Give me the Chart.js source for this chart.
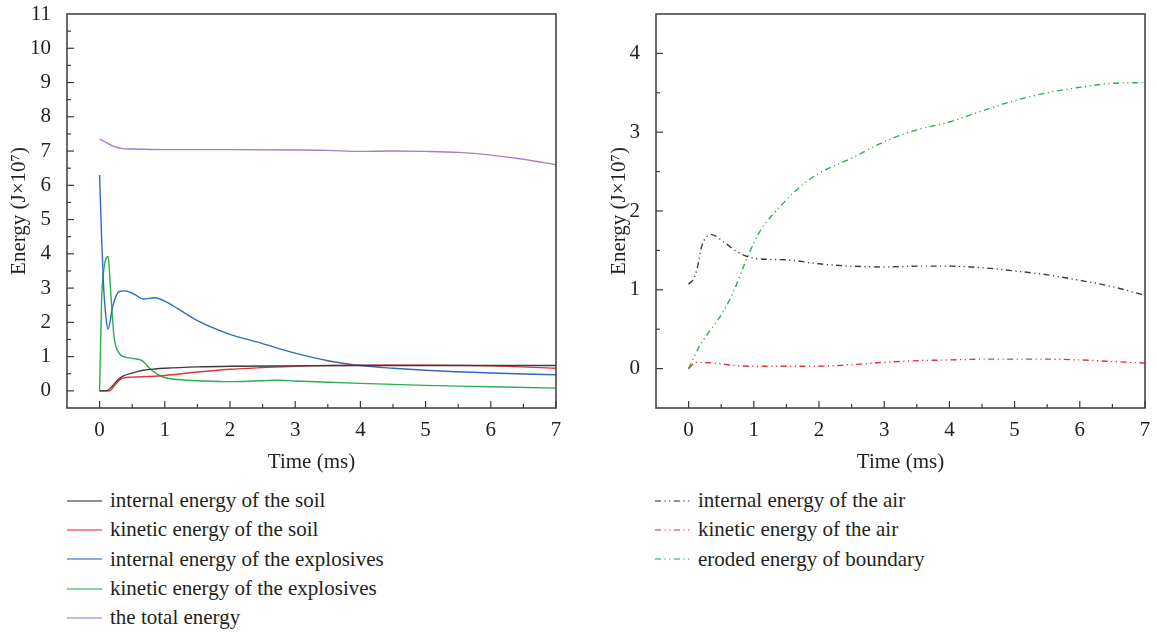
<!DOCTYPE html>
<html lang="en">
<head>
<meta charset="UTF-8">
<title>Energy curves</title>
<script src="https://cdn.jsdelivr.net/npm/chart.js"></script>
<style>
    body { margin: 0; background: #fff; font-family: "Liberation Serif", "DejaVu Serif", serif; color: #231f20; }
    .panel { position: absolute; top: 0; }
    .legend { position: absolute; font-size: 21px; }
    .legend div { display: flex; align-items: center; height: 29.3px; }
    .legend svg { margin-right: 8px; }
</style>
</head>
<body>
<div class="panel" style="left:0"><canvas id="leftChart" width="578" height="475"></canvas></div>
<div class="panel" style="left:578px"><canvas id="rightChart" width="579" height="475"></canvas></div>
<div class="legend" id="leftLegend" style="left:67px; top:486px"></div>
<div class="legend" id="rightLegend" style="left:655px; top:486px"></div>
<script>
// left panel (ms, J x 10^7)
const tSoilInt = [0, 0.1, 0.2, 0.27, 0.35, 0.5, 0.67, 0.85, 1, 1.5, 2, 3, 4, 5, 6, 7];
const soilInternal = [0, 0, 0.15, 0.3, 0.42, 0.52, 0.6, 0.64, 0.66, 0.7, 0.72, 0.73, 0.74, 0.74, 0.74, 0.74];
const tSoilKin = [0, 0.15, 0.25, 0.35, 0.5, 1, 1.5, 2, 2.5, 3, 4, 5, 6, 7];
const soilKinetic = [0, 0, 0.2, 0.37, 0.4, 0.45, 0.55, 0.63, 0.68, 0.72, 0.75, 0.75, 0.73, 0.66];
const tExpInt = [0, 0.03, 0.06, 0.1, 0.13, 0.2, 0.3, 0.4, 0.55, 0.67, 0.85, 1, 1.2, 1.5, 2, 2.5, 3, 3.5, 4, 4.5, 5, 6, 7];
const explosivesInternal = [6.3, 4.5, 3.1, 2.1, 1.8, 2.46, 2.9, 2.92, 2.8, 2.68, 2.72, 2.62, 2.4, 2.05, 1.65, 1.38, 1.1, 0.88, 0.74, 0.66, 0.6, 0.52, 0.47];
const tExpKin = [0, 0.03, 0.07, 0.13, 0.17, 0.22, 0.3, 0.37, 0.5, 0.65, 0.8, 0.95, 1.2, 1.6, 2, 2.3, 2.7, 3, 4, 5, 6, 7];
const explosivesKinetic = [0, 2.6, 3.6, 3.92, 2.9, 1.6, 1.1, 1.0, 0.95, 0.88, 0.6, 0.42, 0.33, 0.29, 0.27, 0.28, 0.31, 0.29, 0.22, 0.16, 0.12, 0.08];
const tTotal = [0, 0.1, 0.2, 0.35, 0.5, 1, 2, 3, 3.5, 4, 4.5, 5, 5.5, 6, 6.5, 7];
const totalEnergy = [7.35, 7.25, 7.15, 7.07, 7.06, 7.04, 7.04, 7.03, 7.02, 6.99, 7.0, 6.99, 6.96, 6.88, 6.76, 6.6];

// right panel
const tAirInt = [0, 0.09, 0.14, 0.2, 0.35, 0.55, 0.75, 1, 1.5, 2, 2.5, 3, 3.5, 4, 4.5, 5, 5.5, 6, 6.5, 7];
const airInternal = [1.07, 1.16, 1.3, 1.55, 1.7, 1.6, 1.48, 1.4, 1.38, 1.33, 1.3, 1.29, 1.3, 1.3, 1.28, 1.24, 1.19, 1.12, 1.04, 0.93];
const tAirKin = [0, 0.12, 0.4, 0.7, 1, 1.5, 2, 2.5, 3, 3.5, 4, 4.5, 5, 5.5, 6, 6.5, 7];
const airKinetic = [0, 0.08, 0.07, 0.04, 0.03, 0.03, 0.03, 0.05, 0.08, 0.1, 0.11, 0.12, 0.12, 0.12, 0.11, 0.09, 0.07];
const tEroded = [0, 0.17, 0.3, 0.53, 0.7, 0.91, 1.1, 1.42, 1.7, 2, 2.5, 3, 3.5, 4, 4.5, 5, 5.5, 6, 6.5, 7];
const erodedBoundary = [0, 0.29, 0.45, 0.72, 1.0, 1.43, 1.75, 2.07, 2.3, 2.48, 2.67, 2.88, 3.03, 3.13, 3.27, 3.4, 3.5, 3.57, 3.62, 3.63];

const leftLabels = ['internal energy of the soil', 'kinetic energy of the soil', 'internal energy of the explosives', 'kinetic energy of the explosives', 'the total energy'];
const rightLabels = ['internal energy of the air', 'kinetic energy of the air', 'eroded energy of boundary'];

const FONT = '"Liberation Serif", "DejaVu Serif", serif';
const INK = '#231f20';
const DASH = [6, 3.5, 1.2, 3.5, 1.2, 3.5];

function pts(t, v) { return t.map((x, i) => ({ x: x, y: v[i] })); }

function line(label, t, v, color, dash) {
    return {
        label: label, data: pts(t, v), borderColor: color, borderWidth: 1.4,
        borderDash: dash || [], pointRadius: 0, fill: false, cubicInterpolationMode: 'monotone'
    };
}

// draws the box and inward tick marks
const framePlugin = {
    id: 'frame',
    afterDraw(chart) {
        const ctx = chart.ctx, a = chart.chartArea;
        ctx.save();
        ctx.strokeStyle = '#3a3a3a';
        ctx.lineWidth = 1.5;
        ctx.strokeRect(a.left, a.top, a.right - a.left, a.bottom - a.top);
        ctx.lineWidth = 1.2;
        const xs = chart.scales.x, ys = chart.scales.y;
        xs.ticks.forEach(tk => {
            if (tk.value <= xs.min) return;
            const p = xs.getPixelForValue(tk.value);
            const len = Number.isInteger(tk.value) ? 7 : 4;
            ctx.beginPath(); ctx.moveTo(p, a.bottom); ctx.lineTo(p, a.bottom - len); ctx.stroke();
        });
        ys.ticks.forEach(tk => {
            if (tk.value <= ys.min || tk.value >= ys.max) return;
            const p = ys.getPixelForValue(tk.value);
            const len = Number.isInteger(tk.value) ? 7 : 4;
            ctx.beginPath(); ctx.moveTo(a.left, p); ctx.lineTo(a.left + len, p); ctx.stroke();
        });
        ctx.restore();
    }
};

function makeChart(id, datasets, yMax, padLeft, yWidth, padRight) {
    const tickCb = v => Number.isInteger(v) ? v : '';
    return new Chart(document.getElementById(id), {
        type: 'line',
        data: { datasets: datasets },
        options: {
            responsive: false, animation: false, devicePixelRatio: 1,
            layout: { padding: { left: padLeft, right: padRight, top: 14, bottom: 0 } },
            plugins: { legend: { display: false }, tooltip: { enabled: false } },
            scales: {
                x: {
                    type: 'linear', min: -0.5, max: 7,
                    grid: { display: false }, border: { display: false },
                    ticks: { stepSize: 0.5, autoSkip: false, maxRotation: 0, callback: tickCb, padding: 2, color: INK, font: { family: FONT, size: 21 } },
                    title: { display: true, text: 'Time (ms)', color: INK, padding: { top: 10, bottom: 0 }, font: { family: FONT, size: 21 } },
                    afterFit: s => { s.height = 67; s.paddingLeft = 0; s.paddingRight = 0; }
                },
                y: {
                    type: 'linear', min: -0.5, max: yMax,
                    grid: { display: false }, border: { display: false },
                    ticks: { stepSize: 0.5, autoSkip: false, callback: tickCb, padding: 8, color: INK, font: { family: FONT, size: 21 } },
                    title: { display: true, text: 'Energy (J×10⁷)', color: INK, padding: 0, font: { family: FONT, size: 21 } },
                    afterFit: s => { s.width = yWidth; s.paddingTop = 0; s.paddingBottom = 0; }
                }
            }
        },
        plugins: [framePlugin]
    });
}

const leftColors = ['#3b3b3b', '#e8323a', '#2f6bbf', '#2cad4f', '#a77cc8'];
makeChart('leftChart', [
    line(leftLabels[0], tSoilInt, soilInternal, leftColors[0]),
    line(leftLabels[1], tSoilKin, soilKinetic, leftColors[1]),
    line(leftLabels[2], tExpInt, explosivesInternal, leftColors[2]),
    line(leftLabels[3], tExpKin, explosivesKinetic, leftColors[3]),
    line(leftLabels[4], tTotal, totalEnergy, leftColors[4])
], 11, 7, 60, 22);

const rightColors = ['#3b3b3b', '#e8323a', '#2cad4f'];
makeChart('rightChart', [
    line(rightLabels[0], tAirInt, airInternal, rightColors[0], DASH),
    line(rightLabels[1], tAirKin, airKinetic, rightColors[1], DASH),
    line(rightLabels[2], tEroded, erodedBoundary, rightColors[2], DASH)
], 4.5, 29, 49, 12);

function buildLegend(id, labels, colors, dashed) {
    const box = document.getElementById(id);
    labels.forEach((lab, i) => {
        const row = document.createElement('div');
        const dash = dashed ? ' stroke-dasharray="' + DASH.join(' ') + '"' : '';
        row.innerHTML = '<svg width="35" height="4"><line x1="0" y1="2" x2="35" y2="2" stroke="' + colors[i] +
            '" stroke-opacity="0.75" stroke-width="1.6"' + dash + '/></svg><span>' + lab + '</span>';
        box.appendChild(row);
    });
}
buildLegend('leftLegend', leftLabels, leftColors, false);
buildLegend('rightLegend', rightLabels, rightColors, true);
</script>
</body>
</html>
